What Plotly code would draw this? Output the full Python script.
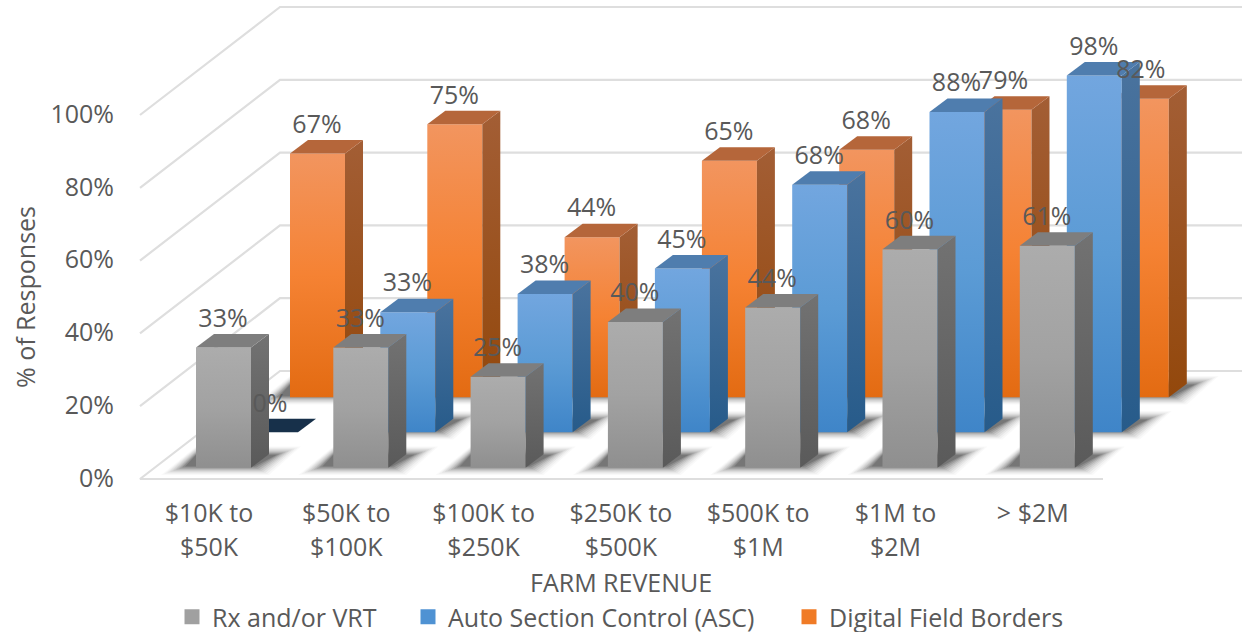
import plotly.graph_objects as go

categories = ["$10K to<br>$50K", "$50K to<br>$100K", "$100K to<br>$250K", "$250K to<br>$500K",
              "$500K to<br>$1M", "$1M to<br>$2M", "> $2M"]
rx_vrt = [33, 33, 25, 40, 44, 60, 61]
asc = [0, 33, 38, 45, 68, 88, 98]
borders = [67, 75, 44, 65, 68, 79, 82]
y_ticks = [0, 20, 40, 60, 80, 100]

W, H = 1242, 632
ML, MB = 118, 137
PLOT_B = H - MB
PX_X = 137.3            # pixels per category
PX_Y = 3.64             # pixels per percent
X0_PX, Y0_PX = 209, 479
FONT = "Open Sans"
TXT = "#595959"
FS = 25


def ux(px):
    return px / PX_X


def uy(px):
    return px / PX_Y


BAR_W = ux(55)
DEPTH_X, DEPTH_Y = ux(18), uy(13.5)
WALL_X, WALL_Y = ux(140), uy(108)
LEFT = (140 - X0_PX) / PX_X
RIGHT_BACK = (1300 - X0_PX) / PX_X
FRONT_END = (1103 - X0_PX) / PX_X

series = [
    dict(name="Digital Field Borders", vals=borders, dx=ux(-13 + 94), base=uy(479 - 397.3),
         front=["#F2955F", "#F58233", "#E36B12"], side=["#A35E35", "#93480C"], top="#B5663A"),
    dict(name="Auto Section Control (ASC)", vals=asc, dx=ux(-13 + 47), base=uy(479 - 432.3),
         front=["#72A6DF", "#5B9BD5", "#3F85C8"], side=["#4A739E", "#275B8A"], top="#4F7DAE"),
    dict(name="Rx and/or VRT", vals=rx_vrt, dx=ux(-13), base=uy(479 - 467.7),
         front=["#ACACAC", "#A2A2A2", "#8F8F8F"], side=["#727272", "#5A5A5A"], top="#7E7E7E"),
]

fig = go.Figure()


def poly(xs, ys, **kw):
    fig.add_trace(go.Scatter(x=xs + xs[:1], y=ys + ys[:1], mode="lines", fill="toself",
                             line=dict(width=0), hoverinfo="skip", showlegend=False, **kw))


def ramp(cols):
    n = len(cols) - 1
    return [[i / n, c] for i, c in enumerate(cols)]


# walls and floor gridlines
for t in y_ticks:
    if t == 0:
        xs = [FRONT_END, LEFT, LEFT + WALL_X, RIGHT_BACK]
    else:
        xs = [LEFT, LEFT + WALL_X, RIGHT_BACK]
    ys = [t] * (len(xs) - 2) + [t + WALL_Y, t + WALL_Y]
    fig.add_trace(go.Scatter(x=xs, y=ys, mode="lines", line=dict(color="#DEDEDE", width=2.2),
                             hoverinfo="skip", showlegend=False))

# soft floor shadows (nested translucent layers read as a blur)
layers = [(15, 0.025), (12, 0.035), (9, 0.05), (6, 0.06), (3, 0.08), (0, 0.10), (-3, 0.12), (-6, 0.15), (-9, 0.18)]
for s in series:
    for i, v in enumerate(s["vals"]):
        if v == 0:
            continue
        x0 = i + s["dx"]
        for g, a in layers:
            poly([x0 + ux(-20 - g), x0 + ux(64 + g * 0.6), x0 + ux(90 + g), x0 + ux(0)],
                 [s["base"] - uy(2 + g * 0.35), s["base"] - uy(2 + g * 0.35),
                  s["base"] + uy(16 + g * 0.35), s["base"] + uy(16 + g * 0.35)],
                 fillcolor=f"rgba(20,20,20,{a})")

# bars, back series first
for s in series:
    for i, v in enumerate(s["vals"]):
        x0 = i + s["dx"]
        x1 = x0 + BAR_W
        b = s["base"]
        t = b + v
        top_col = s["top"] if v > 0 else "#17304A"
        if v > 0:
            poly([x0, x1, x1, x0], [b, b, t, t],
                 fillgradient=dict(type="vertical", colorscale=ramp(s["front"][::-1])))
            poly([x1, x1 + DEPTH_X, x1 + DEPTH_X, x1], [b, b + DEPTH_Y, t + DEPTH_Y, t],
                 fillgradient=dict(type="vertical", colorscale=ramp(s["side"][::-1])))
        poly([x0, x1, x1 + DEPTH_X, x0 + DEPTH_X], [t, t, t + DEPTH_Y, t + DEPTH_Y],
             fillcolor=top_col)

# data labels
for s in series:
    fig.add_trace(go.Scatter(
        x=[i + s["dx"] + ux(27) for i in range(len(s["vals"]))],
        y=[s["base"] + v + DEPTH_Y + uy(13.5) for v in s["vals"]],
        text=[f"{v}%" for v in s["vals"]], mode="text", textposition="middle center",
        textfont=dict(family=FONT, size=FS, color=TXT), hoverinfo="skip", showlegend=False))

# legend keys
legend_keys = [("legend", "Rx and/or VRT", "#A0A0A0"),
               ("legend2", "Auto Section Control (ASC)", "#4F92D3"),
               ("legend3", "Digital Field Borders", "#F07B26")]
for ref, name, col in legend_keys:
    fig.add_trace(go.Scatter(x=[None], y=[None], mode="markers", name=name, legend=ref,
                             marker=dict(symbol="square", size=15, color=col)))


def legend_at(px):
    return dict(x=(px - ML) / (W - ML), y=(PLOT_B - 617) / PLOT_B, xanchor="left",
                yanchor="middle", orientation="h", bgcolor="rgba(0,0,0,0)", itemwidth=30,
                font=dict(family=FONT, size=FS, color=TXT), itemclick=False, itemdoubleclick=False)


fig.update_layout(
    width=W, height=H, paper_bgcolor="white", plot_bgcolor="white",
    margin=dict(l=ML, r=0, t=0, b=MB, pad=0, autoexpand=False),
    showlegend=True,
    legend=legend_at(172), legend2=legend_at(408), legend3=legend_at(789),
    xaxis=dict(range=[(ML - X0_PX) / PX_X, (W - X0_PX) / PX_X], tickmode="array",
               tickvals=list(range(len(categories))),
               ticktext=["<br>".join(f"<span style='font-size:{FS}px'>{p}</span>" for p in c.split("<br>"))
                         for c in categories],
               tickfont=dict(family=FONT, size=26, color=TXT), tickangle=0, ticks="", showgrid=False,
               zeroline=False, showline=False, fixedrange=True),
    yaxis=dict(range=[(Y0_PX - PLOT_B) / PX_Y, Y0_PX / PX_Y], tickmode="array", tickvals=y_ticks,
               ticktext=[f"{t}%" for t in y_ticks], tickfont=dict(family=FONT, size=FS, color=TXT),
               ticklabelstandoff=3, ticklabelshift=-1, ticks="", showgrid=False, zeroline=False,
               showline=False, fixedrange=True),
    annotations=[
        dict(text="% of Responses", xref="paper", yref="paper", x=(25 - ML) / (W - ML),
             y=(PLOT_B - 297) / PLOT_B, textangle=-90, showarrow=False, xanchor="center", yanchor="middle",
             font=dict(family=FONT, size=FS, color=TXT)),
        dict(text="FARM REVENUE", xref="paper", yref="paper", x=(621 - ML) / (W - ML),
             y=(PLOT_B - 582) / PLOT_B, showarrow=False, xanchor="center", yanchor="middle",
             font=dict(family=FONT, size=FS, color=TXT)),
    ],
)
# the page's default 8px body margin would push the chart off the 1242x632 window
fig.write_html("out.html", config=dict(displayModeBar=False),
               post_script="document.body.style.margin='0';document.body.style.overflow='hidden';")
